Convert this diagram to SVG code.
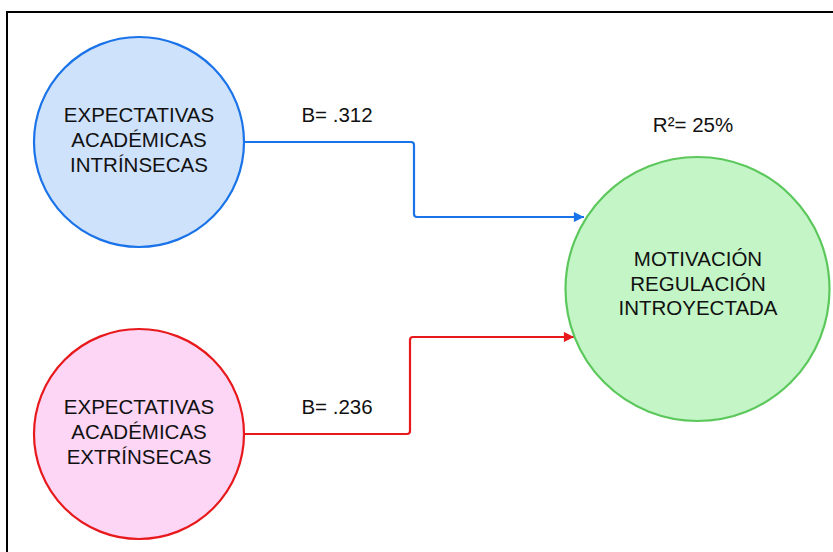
<svg xmlns="http://www.w3.org/2000/svg" width="833" height="552" viewBox="0 0 833 552">
  <style>
    .lbl { font-family: "Liberation Sans", Arial, sans-serif; font-size: 20.5px; fill: #111; text-anchor: middle; }
    .conn { fill: none; stroke-width: 2.2; stroke-linejoin: round; }
  </style>
  <defs>
    <marker id="arrBlue" viewBox="0 0 10 10" refX="10" refY="5" markerWidth="5" markerHeight="4.6" orient="auto" markerUnits="strokeWidth">
      <path d="M0,0 L10,5 L0,10 Z" fill="#1a73e8"/>
    </marker>
    <marker id="arrRed" viewBox="0 0 10 10" refX="10" refY="5" markerWidth="5" markerHeight="4.6" orient="auto" markerUnits="strokeWidth">
      <path d="M0,0 L10,5 L0,10 Z" fill="#e8191c"/>
    </marker>
  </defs>

  <rect width="833" height="552" fill="#ffffff"/>
  <!-- frame (open on the right and bottom) -->
  <path d="M7,560 L7,12 L840,12" fill="none" stroke="#000" stroke-width="2"/>

  <!-- connectors -->
  <g id="connectors">
    <path class="conn" stroke="#1a73e8" d="M244,142 L411,142 Q414,142 414,145 L414,214 Q414,217 417,217 L584,217" marker-end="url(#arrBlue)"/>
    <path class="conn" stroke="#e8191c" d="M244,434 L407,434 Q410,434 410,431 L410,340 Q410,337 413,337 L574,337" marker-end="url(#arrRed)"/>
    <text class="lbl" x="337" y="122">B= .312</text>
    <text class="lbl" x="337" y="414">B= .236</text>
  </g>

  <g id="node-intrinsecas">
    <circle cx="139" cy="142" r="105" fill="#cfe2fc" stroke="#1a73e8" stroke-width="2.2"/>
    <text class="lbl" x="139" y="122">EXPECTATIVAS</text>
    <text class="lbl" x="139" y="147">ACADÉMICAS</text>
    <text class="lbl" x="139" y="172">INTRÍNSECAS</text>
  </g>

  <g id="node-extrinsecas">
    <circle cx="139" cy="434" r="105" fill="#fdd5f5" stroke="#e8191c" stroke-width="2.2"/>
    <text class="lbl" x="139" y="414">EXPECTATIVAS</text>
    <text class="lbl" x="139" y="439">ACADÉMICAS</text>
    <text class="lbl" x="139" y="464">EXTRÍNSECAS</text>
  </g>

  <g id="node-motivacion">
    <circle cx="697.5" cy="289" r="132" fill="#c3f5c6" stroke="#5cc85c" stroke-width="2.2"/>
    <text class="lbl" x="698" y="266">MOTIVACIÓN</text>
    <text class="lbl" x="698" y="291">REGULACIÓN</text>
    <text class="lbl" x="698" y="315">INTROYECTADA</text>
    <text class="lbl" x="693" y="132">R²= 25%</text>
  </g>
</svg>
